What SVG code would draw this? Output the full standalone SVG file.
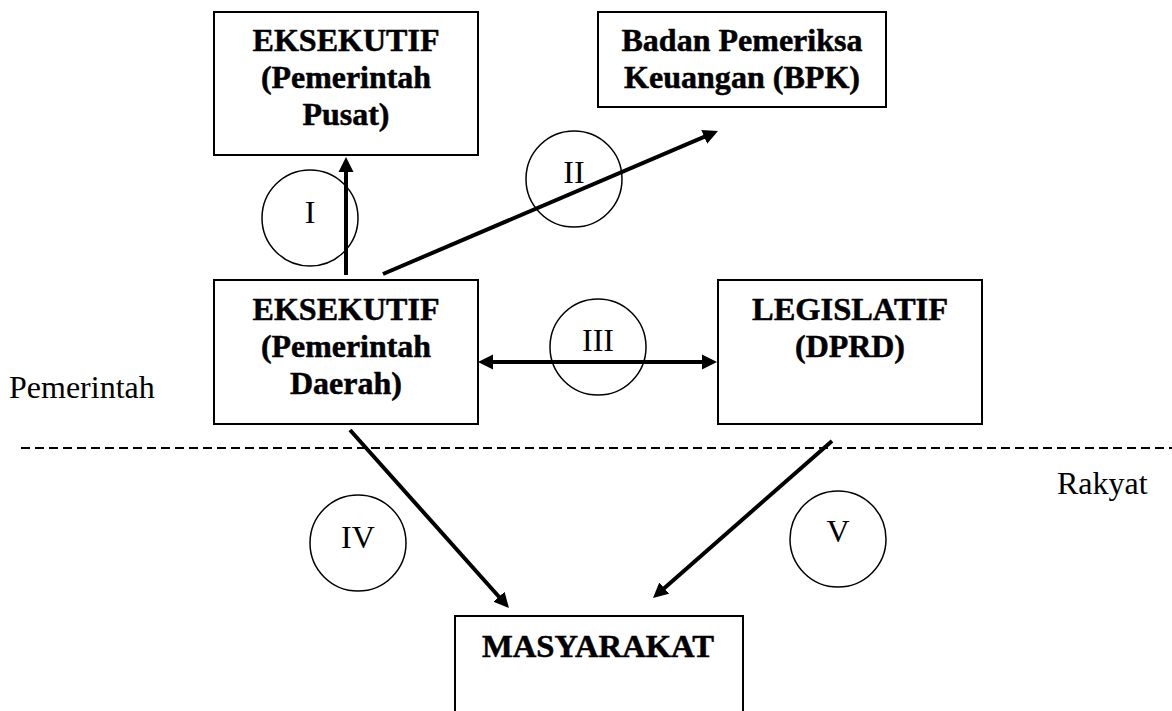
<svg xmlns="http://www.w3.org/2000/svg" width="1172" height="711" viewBox="0 0 1172 711">
<style>
.box{fill:#fff;stroke:#000;stroke-width:2}
.bt{font-family:"Liberation Serif","Times New Roman",serif;font-weight:bold;font-size:32px;fill:#000;stroke:#000;stroke-width:0.5;stroke-linejoin:round;text-anchor:middle}
.rt{font-family:"Liberation Serif","Times New Roman",serif;font-size:32px;fill:#000}
.lbl{font-family:"Liberation Serif","Times New Roman",serif;font-size:32px;fill:#000;text-anchor:middle}
.circ{fill:none;stroke:#000;stroke-width:1.5}
.conn{stroke:#000;stroke-width:4;fill:none}
</style>
<defs>
<marker id="ah" markerUnits="userSpaceOnUse" markerWidth="16" markerHeight="16" refX="5" refY="7.5" orient="auto-start-reverse" viewBox="0 0 16 15">
<path d="M0,0 L15,7.5 L0,15 z" fill="#000"/>
</marker>
</defs>
<rect width="1172" height="711" fill="#fff"/>
<g id="separator">
<line x1="21" y1="448" x2="1172" y2="448" stroke="#000" stroke-width="2" stroke-dasharray="9 5"/>
<text class="rt" x="9" y="398">Pemerintah</text>
<text class="rt" x="1057" y="494">Rakyat</text>
</g>
<g id="node-pusat">
<rect class="box" x="214" y="12" width="264" height="143"/>
<text class="bt" x="346" y="51" textLength="187" lengthAdjust="spacingAndGlyphs">EKSEKUTIF</text>
<text class="bt" x="346" y="88" textLength="170" lengthAdjust="spacingAndGlyphs">(Pemerintah</text>
<text class="bt" x="346" y="125" textLength="87" lengthAdjust="spacingAndGlyphs">Pusat)</text>
</g>
<g id="node-bpk">
<rect class="box" x="598" y="12" width="288" height="95"/>
<text class="bt" x="742" y="51" textLength="241" lengthAdjust="spacingAndGlyphs">Badan Pemeriksa</text>
<text class="bt" x="742" y="88" textLength="236" lengthAdjust="spacingAndGlyphs">Keuangan (BPK)</text>
</g>
<g id="node-daerah">
<rect class="box" x="214" y="280" width="264" height="144"/>
<text class="bt" x="346" y="320" textLength="187" lengthAdjust="spacingAndGlyphs">EKSEKUTIF</text>
<text class="bt" x="346" y="357" textLength="170" lengthAdjust="spacingAndGlyphs">(Pemerintah</text>
<text class="bt" x="346" y="394" textLength="112" lengthAdjust="spacingAndGlyphs">Daerah)</text>
</g>
<g id="node-dprd">
<rect class="box" x="718" y="280" width="264" height="144"/>
<text class="bt" x="850" y="320" textLength="196" lengthAdjust="spacingAndGlyphs">LEGISLATIF</text>
<text class="bt" x="850" y="357" textLength="110" lengthAdjust="spacingAndGlyphs">(DPRD)</text>
</g>
<g id="node-masyarakat">
<rect class="box" x="455" y="616" width="288" height="110"/>
<text class="bt" x="598" y="657" textLength="232" lengthAdjust="spacingAndGlyphs">MASYARAKAT</text>
</g>
<g id="connectors">
<line class="conn" x1="346" y1="275" x2="346" y2="167" marker-end="url(#ah)"/>
<line class="conn" x1="383" y1="274" x2="708.8" y2="134.9" marker-end="url(#ah)"/>
<line class="conn" x1="488" y1="362" x2="707" y2="362" marker-start="url(#ah)" marker-end="url(#ah)"/>
<line class="conn" x1="350" y1="430" x2="502.3" y2="600.5" marker-end="url(#ah)"/>
<line class="conn" x1="832" y1="441" x2="660.5" y2="591.4" marker-end="url(#ah)"/>
</g>
<g id="label-I">
<circle class="circ" cx="310" cy="218" r="48"/>
<text class="lbl" x="310" y="223">I</text>
</g>
<g id="label-II">
<circle class="circ" cx="574" cy="179" r="48"/>
<text class="lbl" x="574" y="183">II</text>
</g>
<g id="label-III">
<circle class="circ" cx="598" cy="347" r="48"/>
<text class="lbl" x="598" y="351">III</text>
</g>
<g id="label-IV">
<circle class="circ" cx="358" cy="543" r="48"/>
<text class="lbl" x="358" y="548">IV</text>
</g>
<g id="label-V">
<circle class="circ" cx="838" cy="539" r="48"/>
<text class="lbl" x="838" y="542">V</text>
</g>
</svg>
